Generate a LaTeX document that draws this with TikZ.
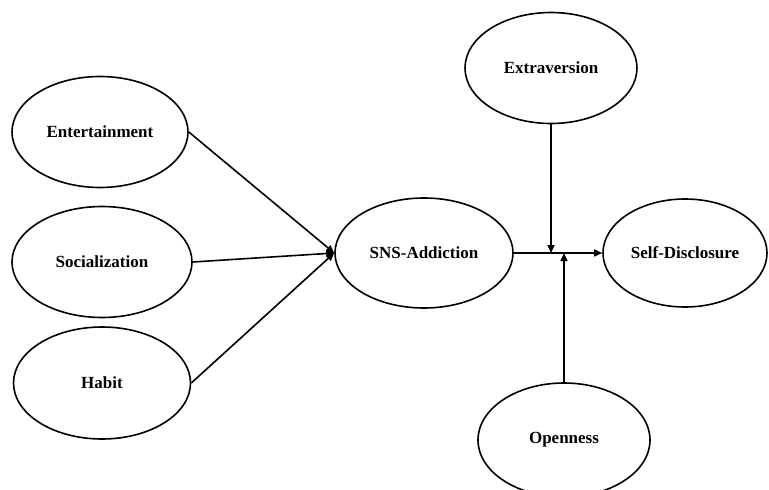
\documentclass[tikz,border=0pt]{standalone}
\usepackage{fontspec}
\setmainfont{Liberation Serif}
\usetikzlibrary{shapes.geometric,arrows.meta}
\begin{document}
\begin{tikzpicture}[x=1pt,y=-1pt,
  var/.style={ellipse,draw,line width=1.6pt,inner sep=0pt,font=\fontsize{17}{20}\selectfont\bfseries},
  conn/.style={line width=1.6pt,-{Triangle[length=8pt,width=7pt]}}]
\useasboundingbox (0,0) rectangle (769,490);
\node[var,minimum width=176,minimum height=111] (ent) at (100,132) {Entertainment};
\node[var,minimum width=180,minimum height=111] (soc) at (102,262) {Socialization};
\node[var,minimum width=177,minimum height=112] (hab) at (102,383) {Habit};
\node[var,minimum width=178,minimum height=110] (sns) at (424,253) {SNS-Addiction};
\node[var,minimum width=164,minimum height=108] (sd) at (685,253) {Self-Disclosure};
\node[var,minimum width=172,minimum height=111] (ext) at (551,68) {Extraversion};
\node[var,minimum width=172,minimum height=114] (ope) at (564,440) {Openness};
\coordinate (mx) at (ext.south |- sns.east);
\coordinate (mo) at (ope.north |- sns.east);
\draw[conn] (ent.east) -- (sns.west);
\draw[conn] (soc.east) -- (sns.west);
\draw[conn] (hab.east) -- (sns.west);
\draw[conn] (sns.east) -- (sd.west);
\draw[conn] (ext.south) -- (mx);
\draw[conn] (ope.north) -- (mo);
\end{tikzpicture}
\end{document}
